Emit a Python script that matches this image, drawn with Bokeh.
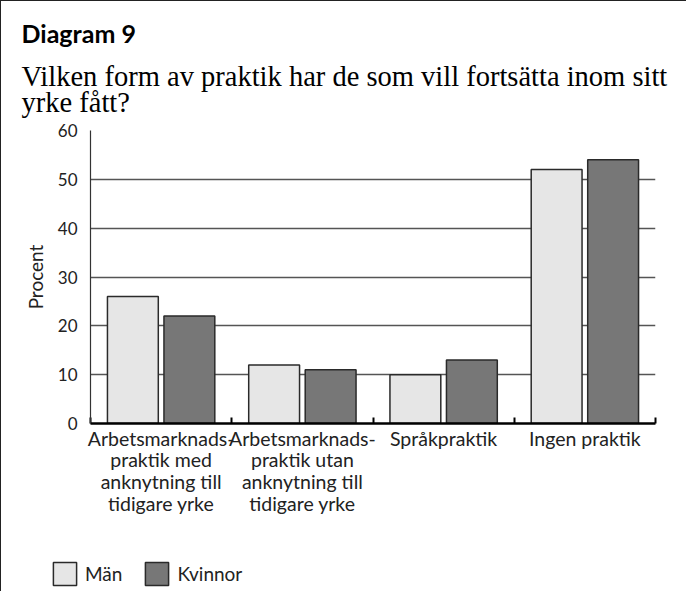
import numpy as np
from bokeh.plotting import figure
from bokeh.layouts import column, row
from bokeh.models import (ColumnDataSource, FixedTicker, Legend, LegendItem,
                          Range1d, Title, Spacer)
from bokeh.transform import dodge
from bokeh.embed import file_html
from bokeh.resources import INLINE

# ---- data ----
categories = [
    "Arbetsmarknads-\npraktik med\nanknytning till\ntidigare yrke",
    "Arbetsmarknads-\npraktik utan\nanknytning till\ntidigare yrke",
    "Språkpraktik",
    "Ingen praktik",
]
man = [26, 12, 10, 52]
kvinnor = [22, 11, 13, 54]
y_ticks = [0, 10, 20, 30, 40, 50, 60]
series_names = ["Män", "Kvinnor"]
series_colors = ["#e6e6e6", "#777777"]

title = "Diagram 9"
subtitle = "Vilken form av praktik har de som vill fortsätta inom sitt\nyrke fått?"

SANS = "Lato"
SERIF = "Liberation Serif"
EDGE = "#2a2a2a"
BORDER = "1.5px solid #222222"

W, H1, H2 = 686, 540, 51
LEG_X, LEG_W = 50, 240

n = len(categories)
xpos = list(np.arange(n) + 0.5)
source = ColumnDataSource(dict(x=xpos, man=man, kvinnor=kvinnor))


def add_bars(fig):
    a = fig.vbar(x=dodge("x", -0.2, range=fig.x_range), top="man", width=0.36,
                 source=source, fill_color=series_colors[0], line_color=EDGE, line_width=1.5)
    b = fig.vbar(x=dodge("x", 0.2, range=fig.x_range), top="kvinnor", width=0.36,
                 source=source, fill_color=series_colors[1], line_color=EDGE, line_width=1.5)
    return a, b


p = figure(width=W, height=H1, output_backend="svg", toolbar_location=None,
           x_range=Range1d(0, n), y_range=Range1d(0, 60),
           min_border_left=89, min_border_right=32, min_border_top=129,
           min_border_bottom=H1 - 422)
p.title = None
p.outline_line_color = None
p.background_fill_color = "white"
p.border_fill_color = "white"
p.styles = {"border-left": BORDER, "border-top": BORDER, "box-sizing": "border-box"}
add_bars(p)

# x axis: labels at centres, ticks at category boundaries
p.xaxis.ticker = FixedTicker(ticks=xpos, minor_ticks=list(range(n + 1)))
p.xaxis.major_label_overrides = {float(x): c for x, c in zip(xpos, categories)}
p.xaxis.major_tick_line_color = None
p.xaxis.minor_tick_in = 6
p.xaxis.minor_tick_out = 0
p.xaxis.minor_tick_line_color = "black"
p.xaxis.minor_tick_line_width = 2
p.xaxis.axis_line_color = "black"
p.xaxis.axis_line_width = 2.5
p.xaxis.major_label_text_font = SANS
p.xaxis.major_label_text_font_size = "19.5px"
p.xaxis.major_label_text_line_height = 0.95
p.xaxis.major_label_text_color = "#222222"
p.xaxis.major_label_standoff = -3
p.xaxis.major_label_orientation = "horizontal"
p.xgrid.grid_line_color = None

# y axis
p.yaxis.ticker = FixedTicker(ticks=y_ticks)
p.yaxis.major_tick_line_color = None
p.yaxis.minor_tick_line_color = None
p.yaxis.axis_line_color = "#333333"
p.yaxis.axis_line_width = 1.2
p.yaxis.major_label_text_font = SANS
p.yaxis.major_label_text_font_size = "17px"
p.yaxis.major_label_text_color = "#222222"
p.yaxis.major_label_standoff = 7
p.yaxis.axis_label = "Procent"
p.yaxis.axis_label_text_font = SANS
p.yaxis.axis_label_text_font_style = "normal"
p.yaxis.axis_label_text_font_size = "19px"
p.yaxis.axis_label_text_color = "#222222"
p.yaxis.axis_label_standoff = 8
p.ygrid.grid_line_color = "#555555"
p.ygrid.grid_line_width = 1.3

# titles (nearest to frame first)
p.add_layout(Title(text=subtitle, align="left", offset=-69, standoff=25,
                   text_font=SERIF, text_font_size="28.5px", text_font_style="normal",
                   text_color="black", text_line_height=0.85), "above")
p.add_layout(Title(text=title, align="left", offset=-69, standoff=-2,
                   text_font=SANS, text_font_size="25px", text_font_style="bold",
                   text_color="black"), "above")

# legend strip: a small figure whose hidden copies of the bars feed the legend keys
lg = figure(width=LEG_W, height=H2, output_backend="svg", toolbar_location=None,
            x_axis_type=None, y_axis_type=None, min_border=0,
            x_range=Range1d(0, n), y_range=Range1d(0, 60))
lg.title = None
lg.outline_line_color = None
lg.xgrid.grid_line_color = None
lg.ygrid.grid_line_color = None
ra, rb = add_bars(lg)
ra.visible = False
rb.visible = False
legend = Legend(items=[LegendItem(label=series_names[0], renderers=[ra]),
                       LegendItem(label=series_names[1], renderers=[rb])],
                orientation="horizontal", location=(0, 3),
                glyph_width=29, glyph_height=29, label_standoff=6, spacing=20,
                padding=0, margin=0, border_line_color=None,
                background_fill_alpha=0, inactive_fill_alpha=0,
                label_text_font=SANS, label_text_font_size="19px",
                label_text_color="#222222")
lg.add_layout(legend, "center")

left_pad = Spacer(width=LEG_X, height=H2,
                  styles={"border-left": BORDER, "box-sizing": "border-box"})
right_pad = Spacer(width=W - LEG_X - LEG_W, height=H2)
strip = row(left_pad, lg, right_pad, spacing=0)

layout = column(p, strip, spacing=0)
open("out.html", "w").write(file_html(layout, INLINE))
